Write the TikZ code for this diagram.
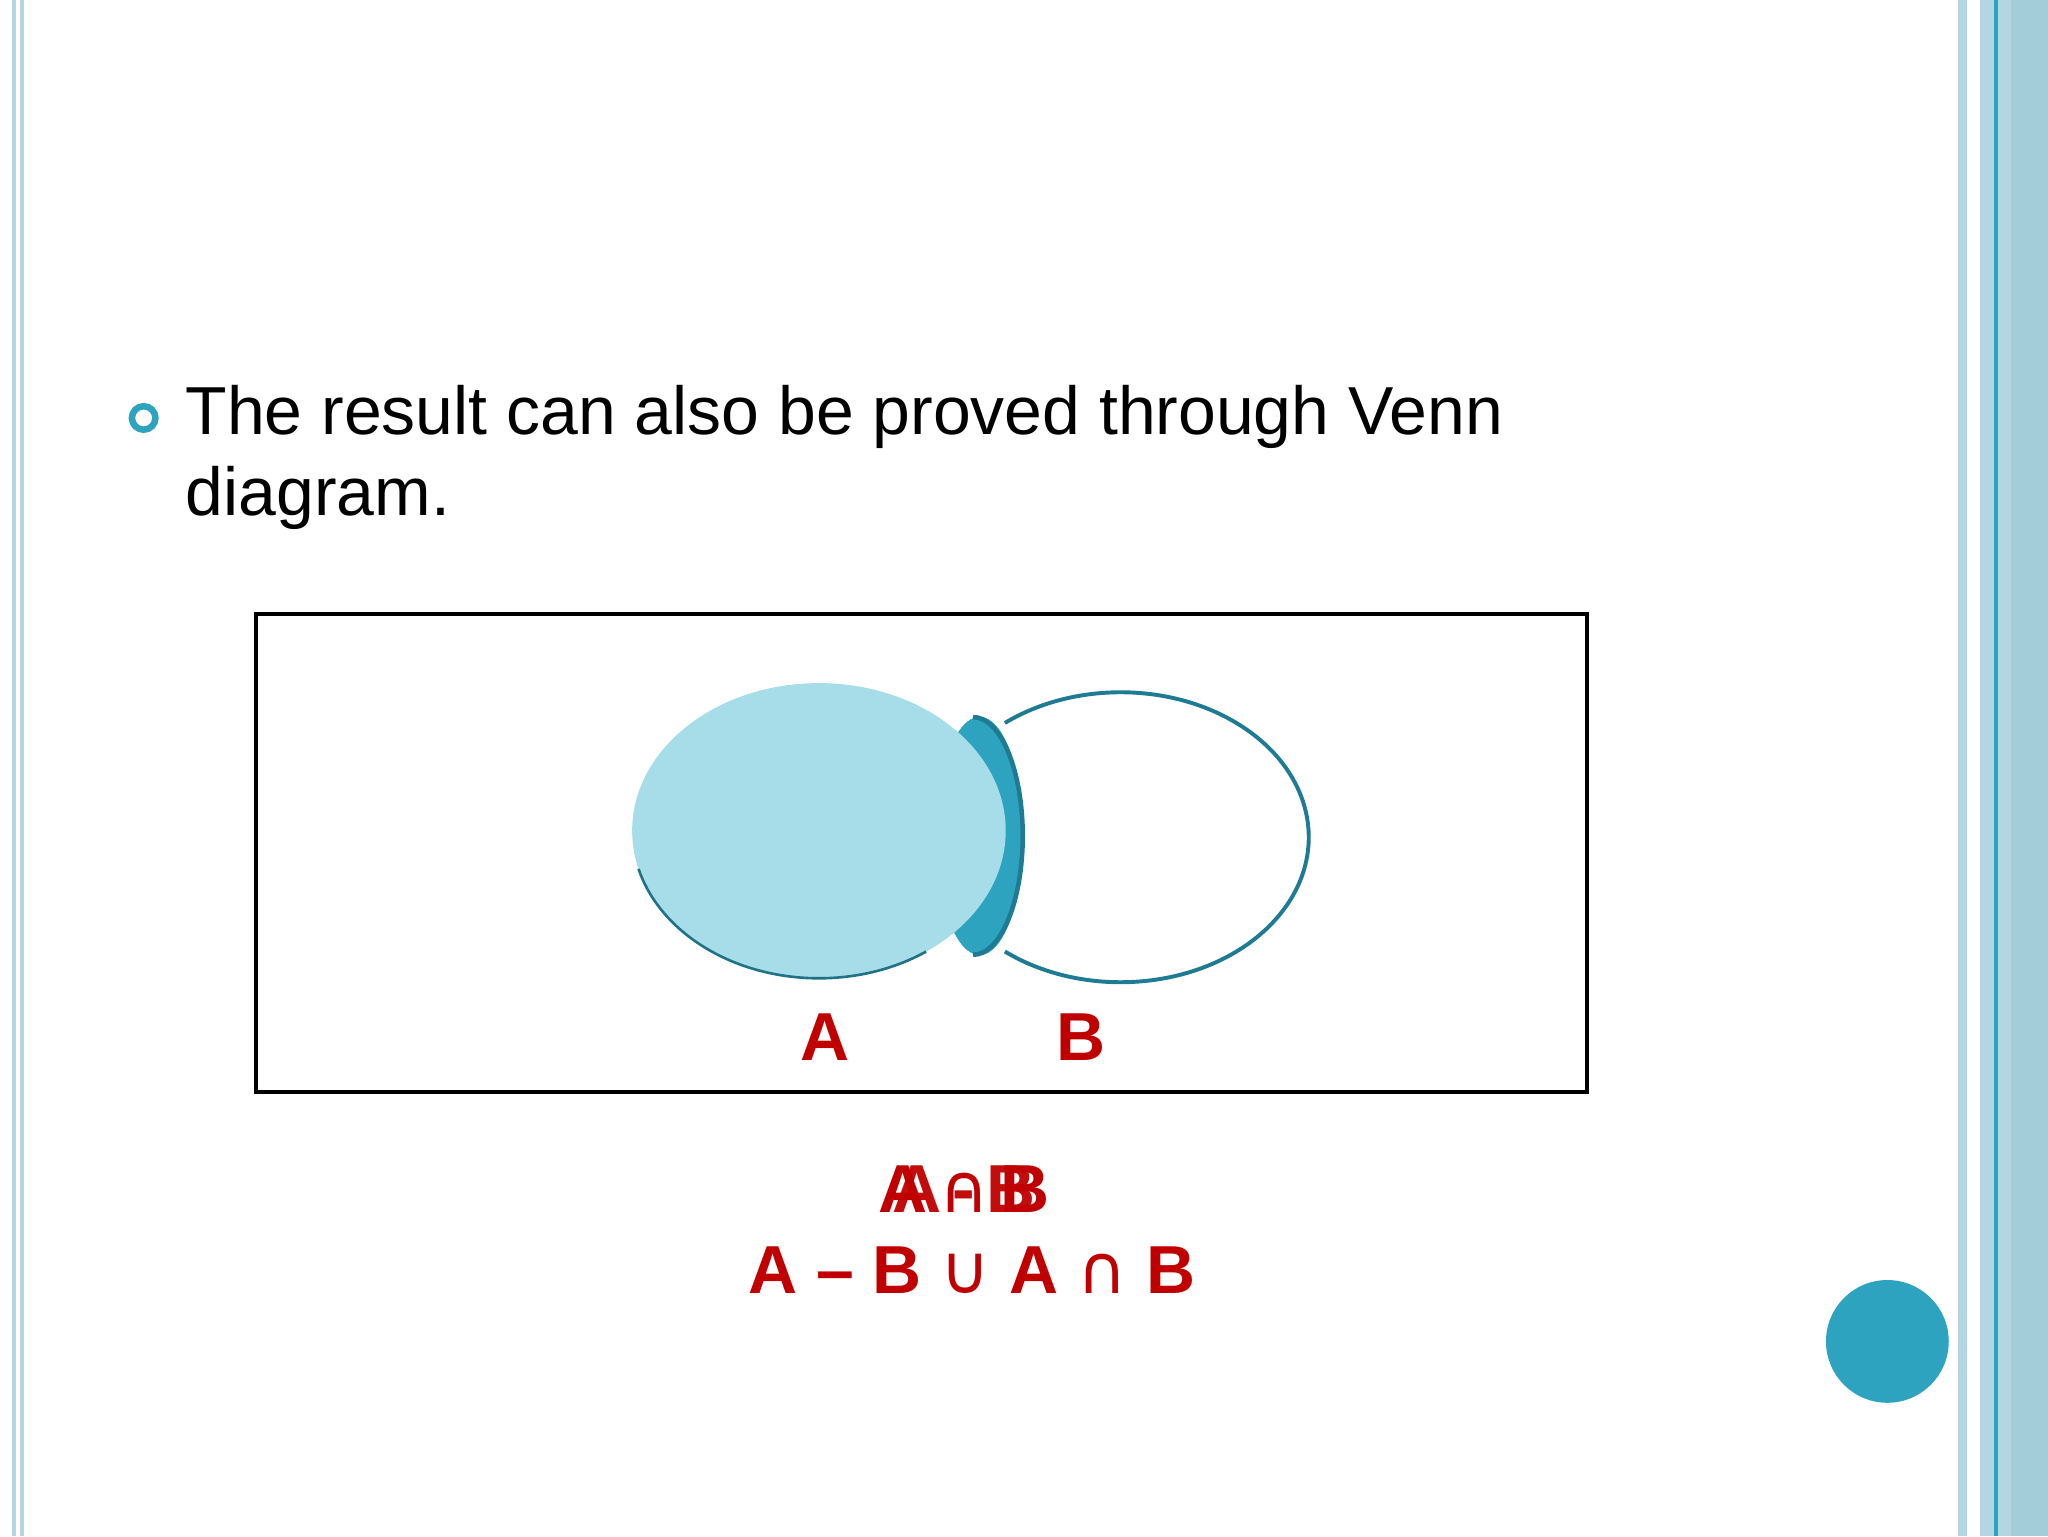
\documentclass[tikz,border=0pt]{standalone}
\usepackage{fontspec}
\setmainfont{Liberation Sans}
\newfontfamily\symf{DejaVu Sans}
\definecolor{teal}{HTML}{2EA3C0}
\definecolor{dteal}{HTML}{1F7A93}
\definecolor{lblue}{HTML}{A6DDE9}
\definecolor{stripe}{HTML}{B3D6E2}
\definecolor{rred}{HTML}{C00000}
\begin{document}
\begin{tikzpicture}[x=1pt,y=-1pt,
  lab/.style={text=rred,font=\fontsize{52}{60}\selectfont\bfseries,inner sep=0pt,anchor=base},
  body/.style={anchor=base west,inner sep=0pt,font=\fontsize{52}{63}\selectfont}]
\useasboundingbox (0,0) rectangle (1568,1176);
% borders
\fill[stripe] (9,0) rectangle (12,1176);
\fill[stripe] (15,0) rectangle (18,1176);
\fill[stripe] (1499,0) rectangle (1506,1176);
\fill[stripe] (1516,0) rectangle (1568,1176);
\fill[stripe!90!dteal] (1540,0) rectangle (1568,1176);
\fill[teal] (1527,0) rectangle (1529.5,1176);
% bullet and text
\draw[teal,line width=5] (110,320) circle (9);
\node[body] (t1) at (142,333) {The result can also be proved through Venn};
\node[body] (t2) at (142,395) {diagram.};
% box
\draw[line width=3] (196,470) rectangle (1215,836);
% B outline
\draw[dteal,line width=3] (858,641) ++(128:144 and 111) arc[start angle=128,end angle=-128,x radius=144,y radius=111];
% lens
\draw[teal,fill=teal] (750,640) ellipse (33 and 91);
\draw[dteal,line width=3.5] (745,549) arc[start angle=-90,end angle=90,x radius=38,y radius=91];
% A
\fill[lblue] (627,636) ellipse (143 and 113);
\draw[teal!70!black,line width=2] (627,636) ++(165:143 and 113) arc[start angle=165,end angle=55,x radius=143,y radius=113];
% labels
\node[lab] (la) at (632,812) {A};
\node[lab] (lb) at (828,812) {B};
\node[lab] (l1) at (738,928) {A{\symf\mdseries\,∩\,}B};
\node[lab,opacity=0.95] (l2) at (738,928) {A\,-\,B};
\node[lab] (l3) at (744,990) {A – B {\symf\mdseries ∪} A {\symf\mdseries ∩} B};
% circle
\fill[teal] (1445,1027) circle (47);
\end{tikzpicture}
\end{document}
